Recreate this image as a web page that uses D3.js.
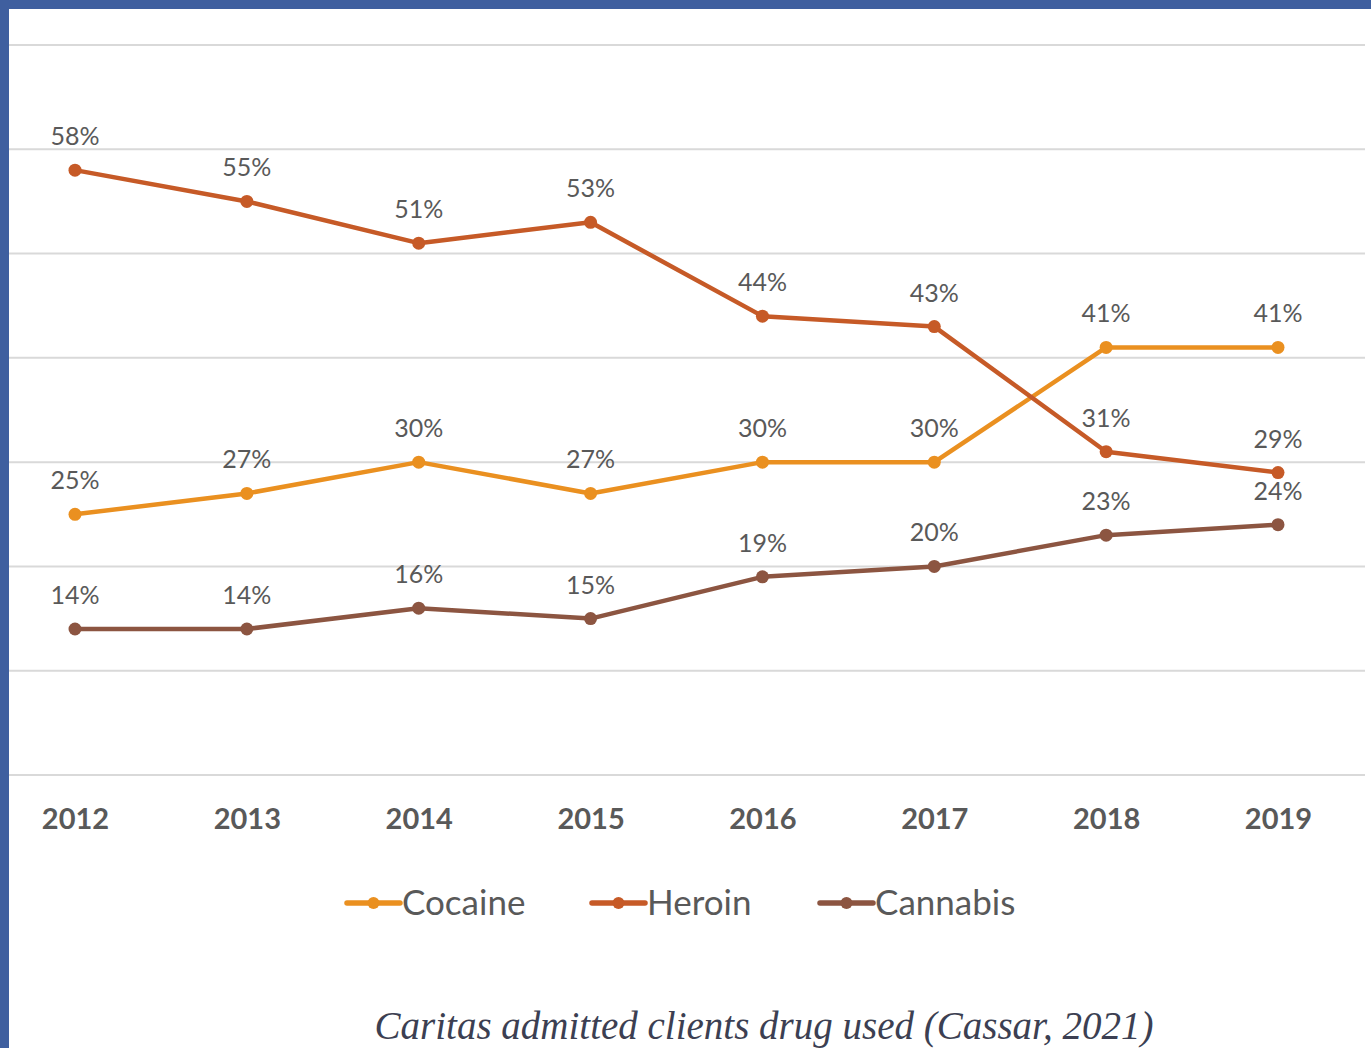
<!DOCTYPE html>
<html>
<head>
<meta charset="utf-8">
<script src="https://cdn.jsdelivr.net/npm/d3@7"></script>
<style>
  html, body { margin: 0; padding: 0; background: #3f5f9f; }
  svg { display: block; }
</style>
</head>
<body>
<svg id="chart" width="1371" height="1048"></svg>
<script>
// Share of Caritas admitted clients by drug used, 2012–2019 (%)
const years = ["2012", "2013", "2014", "2015", "2016", "2017", "2018", "2019"];
const cocaine = [25, 27, 30, 27, 30, 30, 41, 41];
const heroin = [58, 55, 51, 53, 44, 43, 31, 29];
const cannabis = [14, 14, 16, 15, 19, 20, 23, 24];
const seriesNames = ["Cocaine", "Heroin", "Cannabis"];
const seriesColors = ["#ea9020", "#c65a27", "#8c5541"];
const yTicks = [0, 10, 20, 30, 40, 50, 60, 70];
const caption = "Caritas admitted clients drug used (Cassar, 2021)";

const series = [cocaine, heroin, cannabis].map((vals, i) => ({
  name: seriesNames[i],
  color: seriesColors[i],
  values: vals.map((v, j) => ({ year: years[j], value: v }))
}));

const svg = d3.select("#chart");

// white panel inside the blue frame
svg.append("rect").attr("x", 9).attr("y", 9).attr("width", 1362).attr("height", 1039).attr("fill", "#ffffff");

const x = d3.scalePoint().domain(years).range([75, 1278]);
const y = d3.scaleLinear().domain([0, 70]).range([775, 45]);

// horizontal gridlines
svg.append("g")
  .selectAll("line")
  .data(yTicks)
  .join("line")
  .attr("x1", 9).attr("x2", 1365)
  .attr("y1", d => y(d)).attr("y2", d => y(d))
  .attr("stroke", "#d9d9d9")
  .attr("stroke-width", 2);

// category axis labels
const xAxis = d3.axisBottom(x).tickSize(0).tickPadding(0);
const gx = svg.append("g").attr("transform", "translate(0,775)").call(xAxis);
gx.select(".domain").remove();
gx.selectAll("text")
  .attr("y", 54)
  .attr("dy", 0)
  .attr("font-family", "Lato, 'Open Sans', sans-serif")
  .attr("font-weight", "bold")
  .attr("font-size", 29)
  .attr("fill", "#595959");

const line = d3.line().x(d => x(d.year)).y(d => y(d.value));

const gs = svg.append("g").selectAll("g").data(series).join("g");

gs.append("path")
  .attr("d", d => line(d.values))
  .attr("fill", "none")
  .attr("stroke", d => d.color)
  .attr("stroke-width", 4.5)
  .attr("stroke-linejoin", "round");

gs.selectAll("circle")
  .data(d => d.values.map(v => ({ ...v, color: d.color })))
  .join("circle")
  .attr("cx", d => x(d.year))
  .attr("cy", d => y(d.value))
  .attr("r", 6.5)
  .attr("fill", d => d.color);

// data labels above each point
gs.selectAll("text")
  .data(d => d.values)
  .join("text")
  .attr("x", d => x(d.year))
  .attr("y", d => y(d.value) - 25)
  .attr("text-anchor", "middle")
  .attr("font-family", "Lato, 'Open Sans', sans-serif")
  .attr("font-size", 25)
  .attr("fill", "#595959")
  .text(d => d.value + "%");

// legend
const legendX = [347, 592, 820];
const lg = svg.append("g").selectAll("g").data(series).join("g")
  .attr("transform", (d, i) => `translate(${legendX[i]},903)`);
lg.append("line")
  .attr("x1", 0).attr("x2", 53).attr("y1", 0).attr("y2", 0)
  .attr("stroke", d => d.color).attr("stroke-width", 5.5).attr("stroke-linecap", "round");
lg.append("circle").attr("cx", 26.5).attr("cy", 0).attr("r", 6).attr("fill", d => d.color);
lg.append("text")
  .attr("x", 55).attr("y", 12)
  .attr("font-family", "Lato, 'Open Sans', sans-serif")
  .attr("font-size", 35)
  .attr("fill", "#595959")
  .text(d => d.name);

// caption
svg.append("text")
  .attr("x", 764).attr("y", 1039)
  .attr("text-anchor", "middle")
  .attr("font-family", "'Liberation Serif', 'DejaVu Serif', serif")
  .attr("font-style", "italic")
  .attr("font-size", 39)
  .attr("fill", "#3c3f52")
  .text(caption);
</script>
</body>
</html>
